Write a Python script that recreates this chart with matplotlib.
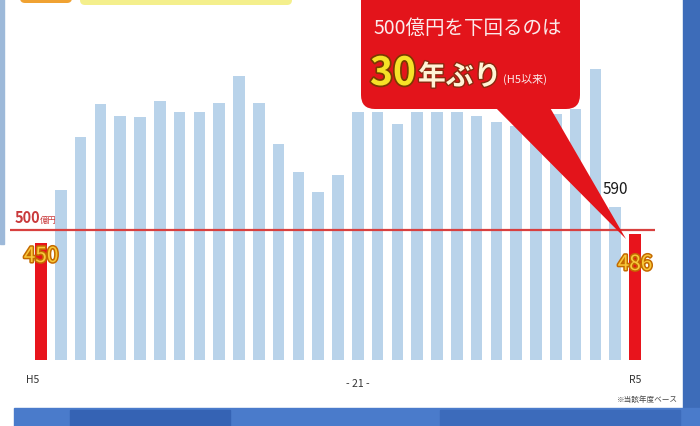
import matplotlib
matplotlib.use("Agg")
import matplotlib.pyplot as plt
from matplotlib.patches import FancyBboxPatch, Polygon, Rectangle
import matplotlib.patheffects as pe

plt.rcParams['font.family'] = ['Noto Sans CJK JP', 'DejaVu Sans']

# ---- data (億円, fiscal years H5 .. R5) ----
years = ["H5", "H6", "H7", "H8", "H9", "H10", "H11", "H12", "H13", "H14", "H15",
         "H16", "H17", "H18", "H19", "H20", "H21", "H22", "H23", "H24", "H25",
         "H26", "H27", "H28", "H29", "H30", "R1", "R2", "R3", "R4", "R5"]
values = [450, 654, 858, 985, 938, 935, 996, 954, 954, 988, 1092,
          988, 831, 723, 646, 712, 954, 954, 908, 954, 954,
          954, 938, 915, 900, 920, 946, 965, 1119, 590, 486]
highlight = ["H5", "R5"]
tick_labels = {"H5": "H5", "H21": "- 21 -", "R5": "R5"}
threshold = 500

BLUE = "#b9d3ea"
RED = "#e8141c"

fig = plt.figure(figsize=(7, 4.27), dpi=100)
fig.patch.set_facecolor("white")

# main axes: bar i centred at pixel 41 + 19.8 i, baseline at pixel y 361
ax = fig.add_axes([0, 0, 1, 1])
step, x0, base, k = 19.8, 41, 361, 0.26
ax.set_xlim(-x0 / step, (700 - x0) / step)
ax.set_ylim(-(427 - base) / k, base / k)
ax.axis("off")

xs = list(range(len(years)))
colors = [RED if y in highlight else BLUE for y in years]
ax.bar(xs, values, width=0.58, color=colors, zorder=2)

# 500 line
ax.hlines(threshold, (10 - x0) / step, (655 - x0) / step, color="#d8403f", lw=1.6, zorder=3)

# value labels
lab_style = [pe.withStroke(linewidth=2.2, foreground="#c46a00")]
for i, (y, v) in enumerate(zip(years, values)):
    if y in highlight:
        yy = 257 if y == "H5" else 265
        ax.text(i, (base - yy) / k, str(v), ha="center", va="center", fontsize=15,
                color="#f8c93a", path_effects=lab_style, zorder=5)
i590 = years.index("R4")
ax.text(i590, values[i590] + 70, str(values[i590]), ha="center", va="center",
        fontsize=11, color="#1a1a1a", zorder=5)

# x tick labels
for i, y in enumerate(years):
    if y in tick_labels:
        yy = 384 if y == "H21" else 380
        ax.text(i - (0.4 if y == "H5" else 0), (base - yy) / k, tick_labels[y],
                ha="center", va="center", fontsize=7.5, color="#333333", zorder=5)

# overlay axes in pixel units
ov = fig.add_axes([0, 0, 1, 1], zorder=10)
ov.set_xlim(0, 700)
ov.set_ylim(427, 0)
ov.axis("off")
ov.patch.set_alpha(0)

# borders
ov.add_patch(Rectangle((683, 0), 17, 427, color="#3d6cb9"))
ov.add_patch(Rectangle((14, 409), 686, 18, color="#4a7bcb"))
ov.add_patch(Rectangle((70, 411), 160, 16, color="#3563b4"))
ov.add_patch(Rectangle((440, 411), 240, 16, color="#3c6bbb"))
ov.add_patch(Rectangle((0, 0), 4, 245, color="#9db9d9"))

# top title boxes (cut off)
ov.add_patch(FancyBboxPatch((20, -20), 52, 24, boxstyle="round,pad=0,rounding_size=5",
                            fc="#f0a232", ec="none"))
ov.add_patch(FancyBboxPatch((80, -20), 212, 26, boxstyle="round,pad=0,rounding_size=5",
                            fc="#f4ef8c", ec="none"))

# 500億円 label
ov.text(15, 223, "500", fontsize=10.5, color="#c9393b", ha="left", va="baseline",
        fontweight="bold")
ov.text(40, 223, "億円", fontsize=6, color="#c9393b", ha="left", va="baseline")

# footnote
ov.text(678, 400, "※当該年度ベース", fontsize=5.5, color="#444444", ha="right", va="center")

# callout
ov.add_patch(FancyBboxPatch((361, -20), 219, 130, boxstyle="round,pad=0,rounding_size=14",
                            fc="#e3141b", ec="none"))
ov.add_patch(Polygon([(487, 100), (545, 100), (626, 240)], closed=True, fc="#e3141b", ec="none"))
ov.text(468, 28, "500億円を下回るのは", fontsize=14, color="#fbeaea", ha="center", va="center")
ov.text(370, 86, "30", fontsize=28, fontweight="bold", color="#f6e227", ha="left", va="baseline",
        path_effects=[pe.withStroke(linewidth=2.5, foreground="#7a3a00")])
ov.text(418, 86, "年ぶり", fontsize=20, fontweight="bold", color="#fff4d6", ha="left",
        va="baseline", path_effects=[pe.withStroke(linewidth=2, foreground="#8a2a10")])
ov.text(525, 79, "(H5以来)", fontsize=8, color="#fbeaea", ha="center", va="center")

fig.savefig("out.png", dpi=100)
